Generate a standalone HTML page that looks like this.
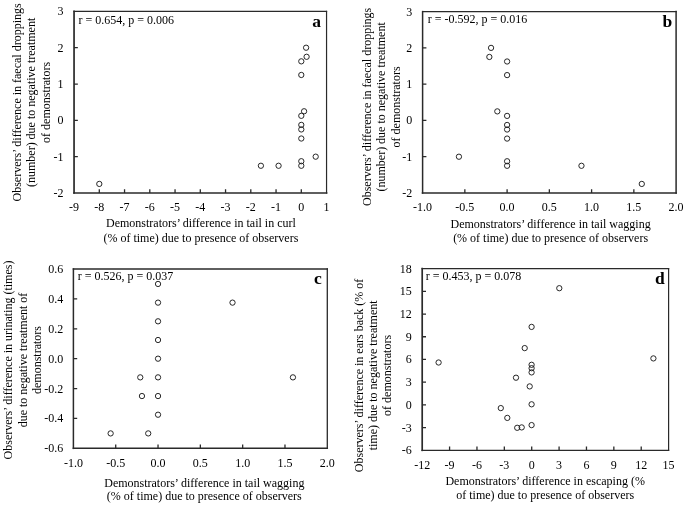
<!DOCTYPE html>
<html><head><meta charset="utf-8"><title>figure</title>
<style>
html,body{margin:0;padding:0;background:#fff;}
body{width:685px;height:505px;overflow:hidden;}
svg{display:block;will-change:transform;}
svg text{font-family:"Liberation Serif", serif;font-size:12px;fill:#000;}
.bx{stroke:#2a2a2a;fill:none;stroke-linecap:square;}
.tk{stroke:#2a2a2a;stroke-width:1.3;fill:none;}
.pt{stroke:#1c1c1c;stroke-width:0.95;fill:none;}
.lab{font-weight:bold;font-size:17.5px;}
</style></head>
<body>
<svg width="685" height="505" viewBox="0 0 685 505">
<rect width="685" height="505" fill="#fff"/>
<g>
<path class="bx" stroke-width="1.2" d="M74.05 11.4H326.55"/>
<path class="bx" stroke-width="1.2" d="M326.55 11.4V193"/>
<path class="bx" stroke-width="1.7" d="M74.05 11.4V193"/>
<path class="bx" stroke-width="1.7" d="M74.05 193H326.55"/>
<text x="74.05" y="211.2" text-anchor="middle">-9</text>
<text x="99.3" y="211.2" text-anchor="middle">-8</text>
<text x="124.55" y="211.2" text-anchor="middle">-7</text>
<text x="149.8" y="211.2" text-anchor="middle">-6</text>
<text x="175.05" y="211.2" text-anchor="middle">-5</text>
<text x="200.3" y="211.2" text-anchor="middle">-4</text>
<text x="225.55" y="211.2" text-anchor="middle">-3</text>
<text x="250.8" y="211.2" text-anchor="middle">-2</text>
<text x="276.05" y="211.2" text-anchor="middle">-1</text>
<text x="301.3" y="211.2" text-anchor="middle">0</text>
<text x="326.55" y="211.2" text-anchor="middle">1</text>
<text x="63.4" y="15.4" text-anchor="end">3</text>
<text x="63.4" y="51.72" text-anchor="end">2</text>
<text x="63.4" y="88.04" text-anchor="end">1</text>
<text x="63.4" y="124.36" text-anchor="end">0</text>
<text x="63.4" y="160.68" text-anchor="end">-1</text>
<text x="63.4" y="197" text-anchor="end">-2</text>
<path class="tk" d="M99.3 193v-3.8M124.55 193v-3.8M149.8 193v-3.8M175.05 193v-3.8M200.3 193v-3.8M225.55 193v-3.8M250.8 193v-3.8M276.05 193v-3.8M301.3 193v-3.8M74.05 47.72h3.8M74.05 84.04h3.8M74.05 120.36h3.8M74.05 156.68h3.8"/>
<circle class="pt" cx="99.3" cy="183.92" r="2.65"/>
<circle class="pt" cx="260.9" cy="165.76" r="2.65"/>
<circle class="pt" cx="278.57" cy="165.76" r="2.65"/>
<circle class="pt" cx="301.3" cy="165.76" r="2.65"/>
<circle class="pt" cx="301.3" cy="161.22" r="2.65"/>
<circle class="pt" cx="315.69" cy="156.68" r="2.65"/>
<circle class="pt" cx="301.3" cy="138.52" r="2.65"/>
<circle class="pt" cx="301.3" cy="129.44" r="2.65"/>
<circle class="pt" cx="301.3" cy="124.9" r="2.65"/>
<circle class="pt" cx="301.3" cy="115.82" r="2.65"/>
<circle class="pt" cx="304.08" cy="111.28" r="2.65"/>
<circle class="pt" cx="301.3" cy="74.96" r="2.65"/>
<circle class="pt" cx="301.3" cy="61.34" r="2.65"/>
<circle class="pt" cx="306.6" cy="56.8" r="2.65"/>
<circle class="pt" cx="306.1" cy="47.72" r="2.65"/>
<text x="78.45" y="24">r = 0.654, p = 0.006</text>
<text class="lab" x="312.3" y="26.7">a</text>
<text x="200.9" y="227.4" text-anchor="middle">Demonstrators’ difference in tail in curl</text>
<text x="200.9" y="241.5" text-anchor="middle">(% of time) due to presence of observers</text>
<text transform="translate(20.8 102.4) rotate(-90)" text-anchor="middle">Observers’ difference in faecal droppings</text>
<text transform="translate(35.4 102.4) rotate(-90)" text-anchor="middle">(number) due to negative treatment</text>
<text transform="translate(50 102.4) rotate(-90)" text-anchor="middle">of demonstrators</text>
</g>
<g>
<path class="bx" stroke-width="1.2" d="M422.6 11.6H676.1"/>
<path class="bx" stroke-width="1.5" d="M676.1 11.6V193"/>
<path class="bx" stroke-width="1.5" d="M422.6 11.6V193"/>
<path class="bx" stroke-width="1.7" d="M422.6 193H676.1"/>
<text x="422.6" y="210.6" text-anchor="middle">-1.0</text>
<text x="464.85" y="210.6" text-anchor="middle">-0.5</text>
<text x="507.1" y="210.6" text-anchor="middle">0.0</text>
<text x="549.35" y="210.6" text-anchor="middle">0.5</text>
<text x="591.6" y="210.6" text-anchor="middle">1.0</text>
<text x="633.85" y="210.6" text-anchor="middle">1.5</text>
<text x="676.1" y="210.6" text-anchor="middle">2.0</text>
<text x="412.3" y="15.6" text-anchor="end">3</text>
<text x="412.3" y="51.88" text-anchor="end">2</text>
<text x="412.3" y="88.16" text-anchor="end">1</text>
<text x="412.3" y="124.44" text-anchor="end">0</text>
<text x="412.3" y="160.72" text-anchor="end">-1</text>
<text x="412.3" y="197" text-anchor="end">-2</text>
<path class="tk" d="M464.85 193v-3.8M507.1 193v-3.8M549.35 193v-3.8M591.6 193v-3.8M633.85 193v-3.8M422.6 47.88h3.8M422.6 84.16h3.8M422.6 120.44h3.8M422.6 156.72h3.8"/>
<circle class="pt" cx="491.05" cy="47.88" r="2.65"/>
<circle class="pt" cx="489.36" cy="56.95" r="2.65"/>
<circle class="pt" cx="507.1" cy="61.49" r="2.65"/>
<circle class="pt" cx="507.1" cy="75.09" r="2.65"/>
<circle class="pt" cx="497.3" cy="111.37" r="2.65"/>
<circle class="pt" cx="507.1" cy="115.9" r="2.65"/>
<circle class="pt" cx="507.1" cy="124.97" r="2.65"/>
<circle class="pt" cx="507.1" cy="129.51" r="2.65"/>
<circle class="pt" cx="507.1" cy="138.58" r="2.65"/>
<circle class="pt" cx="458.94" cy="156.72" r="2.65"/>
<circle class="pt" cx="507.1" cy="161.25" r="2.65"/>
<circle class="pt" cx="507.1" cy="165.79" r="2.65"/>
<circle class="pt" cx="581.46" cy="165.79" r="2.65"/>
<circle class="pt" cx="641.79" cy="183.93" r="2.65"/>
<text x="427.7" y="23.35">r = -0.592, p = 0.016</text>
<text class="lab" x="662.4" y="26.7">b</text>
<text x="550.6" y="228" text-anchor="middle">Demonstrators’ difference in tail wagging</text>
<text x="550.6" y="242.1" text-anchor="middle">(% of time) due to presence of observers</text>
<text transform="translate(370.9 106.9) rotate(-90)" text-anchor="middle">Observers’ difference in faecal droppings</text>
<text transform="translate(385.3 106.9) rotate(-90)" text-anchor="middle">(number) due to negative treatment</text>
<text transform="translate(399.7 106.9) rotate(-90)" text-anchor="middle">of demonstrators</text>
</g>
<g>
<path class="bx" stroke-width="1.3" d="M73.4 269H327.3"/>
<path class="bx" stroke-width="1.3" d="M327.3 269V448.35"/>
<path class="bx" stroke-width="1.5" d="M73.4 269V448.35"/>
<path class="bx" stroke-width="1.5" d="M73.4 448.35H327.3"/>
<text x="73.4" y="466.9" text-anchor="middle">-1.0</text>
<text x="115.72" y="466.9" text-anchor="middle">-0.5</text>
<text x="158.03" y="466.9" text-anchor="middle">0.0</text>
<text x="200.35" y="466.9" text-anchor="middle">0.5</text>
<text x="242.67" y="466.9" text-anchor="middle">1.0</text>
<text x="284.98" y="466.9" text-anchor="middle">1.5</text>
<text x="327.3" y="466.9" text-anchor="middle">2.0</text>
<text x="63.2" y="273" text-anchor="end">0.6</text>
<text x="63.2" y="302.89" text-anchor="end">0.4</text>
<text x="63.2" y="332.78" text-anchor="end">0.2</text>
<text x="63.2" y="362.68" text-anchor="end">0.0</text>
<text x="63.2" y="392.57" text-anchor="end">-0.2</text>
<text x="63.2" y="422.46" text-anchor="end">-0.4</text>
<text x="63.2" y="452.35" text-anchor="end">-0.6</text>
<path class="tk" d="M115.72 448.35v-3.8M158.03 448.35v-3.8M200.35 448.35v-3.8M242.67 448.35v-3.8M284.98 448.35v-3.8M73.4 298.89h3.8M73.4 328.78h3.8M73.4 358.68h3.8M73.4 388.57h3.8M73.4 418.46h3.8"/>
<circle class="pt" cx="158.03" cy="283.95" r="2.65"/>
<circle class="pt" cx="158.03" cy="302.63" r="2.65"/>
<circle class="pt" cx="158.03" cy="321.31" r="2.65"/>
<circle class="pt" cx="158.03" cy="339.99" r="2.65"/>
<circle class="pt" cx="158.03" cy="358.68" r="2.65"/>
<circle class="pt" cx="158.03" cy="377.36" r="2.65"/>
<circle class="pt" cx="158.03" cy="396.04" r="2.65"/>
<circle class="pt" cx="158.03" cy="414.72" r="2.65"/>
<circle class="pt" cx="232.51" cy="302.63" r="2.65"/>
<circle class="pt" cx="292.94" cy="377.36" r="2.65"/>
<circle class="pt" cx="140.26" cy="377.36" r="2.65"/>
<circle class="pt" cx="141.95" cy="396.04" r="2.65"/>
<circle class="pt" cx="110.64" cy="433.4" r="2.65"/>
<circle class="pt" cx="148.22" cy="433.4" r="2.65"/>
<text x="77.7" y="279.9">r = 0.526, p = 0.037</text>
<text class="lab" x="314" y="284.1">c</text>
<text x="204.3" y="486.5" text-anchor="middle">Demonstrators’ difference in tail wagging</text>
<text x="204.3" y="500.3" text-anchor="middle">(% of time) due to presence of observers</text>
<text transform="translate(12 360) rotate(-90)" text-anchor="middle">Observers’ difference in urinating (times)</text>
<text transform="translate(26.5 360) rotate(-90)" text-anchor="middle">due to negative treatment of</text>
<text transform="translate(41 360) rotate(-90)" text-anchor="middle">demonstrators</text>
</g>
<g>
<path class="bx" stroke-width="1.2" d="M422.2 268.6H668.6"/>
<path class="bx" stroke-width="1.2" d="M668.6 268.6V450.3"/>
<path class="bx" stroke-width="1.7" d="M422.2 268.6V450.3"/>
<path class="bx" stroke-width="1.3" d="M422.2 450.3H668.6"/>
<text x="422.2" y="468.8" text-anchor="middle">-12</text>
<text x="449.58" y="468.8" text-anchor="middle">-9</text>
<text x="476.96" y="468.8" text-anchor="middle">-6</text>
<text x="504.33" y="468.8" text-anchor="middle">-3</text>
<text x="531.71" y="468.8" text-anchor="middle">0</text>
<text x="559.09" y="468.8" text-anchor="middle">3</text>
<text x="586.47" y="468.8" text-anchor="middle">6</text>
<text x="613.84" y="468.8" text-anchor="middle">9</text>
<text x="641.22" y="468.8" text-anchor="middle">12</text>
<text x="668.6" y="468.8" text-anchor="middle">15</text>
<text x="411.7" y="272.6" text-anchor="end">18</text>
<text x="411.7" y="295.31" text-anchor="end">15</text>
<text x="411.7" y="318.03" text-anchor="end">12</text>
<text x="411.7" y="340.74" text-anchor="end">9</text>
<text x="411.7" y="363.45" text-anchor="end">6</text>
<text x="411.7" y="386.16" text-anchor="end">3</text>
<text x="411.7" y="408.88" text-anchor="end">0</text>
<text x="411.7" y="431.59" text-anchor="end">-3</text>
<text x="411.7" y="454.3" text-anchor="end">-6</text>
<path class="tk" d="M449.58 450.3v-3.8M476.96 450.3v-3.8M504.33 450.3v-3.8M531.71 450.3v-3.8M559.09 450.3v-3.8M586.47 450.3v-3.8M613.84 450.3v-3.8M641.22 450.3v-3.8M422.2 291.31h3.8M422.2 314.03h3.8M422.2 336.74h3.8M422.2 359.45h3.8M422.2 382.16h3.8M422.2 404.88h3.8M422.2 427.59h3.8"/>
<circle class="pt" cx="559.3" cy="288.2" r="2.65"/>
<circle class="pt" cx="531.6" cy="326.9" r="2.65"/>
<circle class="pt" cx="524.7" cy="348.1" r="2.65"/>
<circle class="pt" cx="438.6" cy="362.5" r="2.65"/>
<circle class="pt" cx="653.4" cy="358.4" r="2.65"/>
<circle class="pt" cx="531.6" cy="364.8" r="2.65"/>
<circle class="pt" cx="531.6" cy="368.2" r="2.65"/>
<circle class="pt" cx="531.6" cy="372.4" r="2.65"/>
<circle class="pt" cx="516" cy="377.7" r="2.65"/>
<circle class="pt" cx="529.7" cy="386.4" r="2.65"/>
<circle class="pt" cx="531.6" cy="404.3" r="2.65"/>
<circle class="pt" cx="500.8" cy="408.1" r="2.65"/>
<circle class="pt" cx="507.3" cy="417.9" r="2.65"/>
<circle class="pt" cx="517.2" cy="427.8" r="2.65"/>
<circle class="pt" cx="521.7" cy="427.4" r="2.65"/>
<circle class="pt" cx="531.6" cy="425.1" r="2.65"/>
<text x="425.8" y="280.45">r = 0.453, p = 0.078</text>
<text class="lab" x="655.1" y="283.5">d</text>
<text x="545.2" y="485.2" text-anchor="middle">Demonstrators’ difference in escaping (%</text>
<text x="545.2" y="499.1" text-anchor="middle">of time) due to presence of observers</text>
<text transform="translate(362.6 375.4) rotate(-90)" text-anchor="middle">Observers’ difference in ears back (% of</text>
<text transform="translate(377 375.4) rotate(-90)" text-anchor="middle">time) due to negative treatment</text>
<text transform="translate(391.4 375.4) rotate(-90)" text-anchor="middle">of demonstrators</text>
</g>
</svg>
</body></html>
